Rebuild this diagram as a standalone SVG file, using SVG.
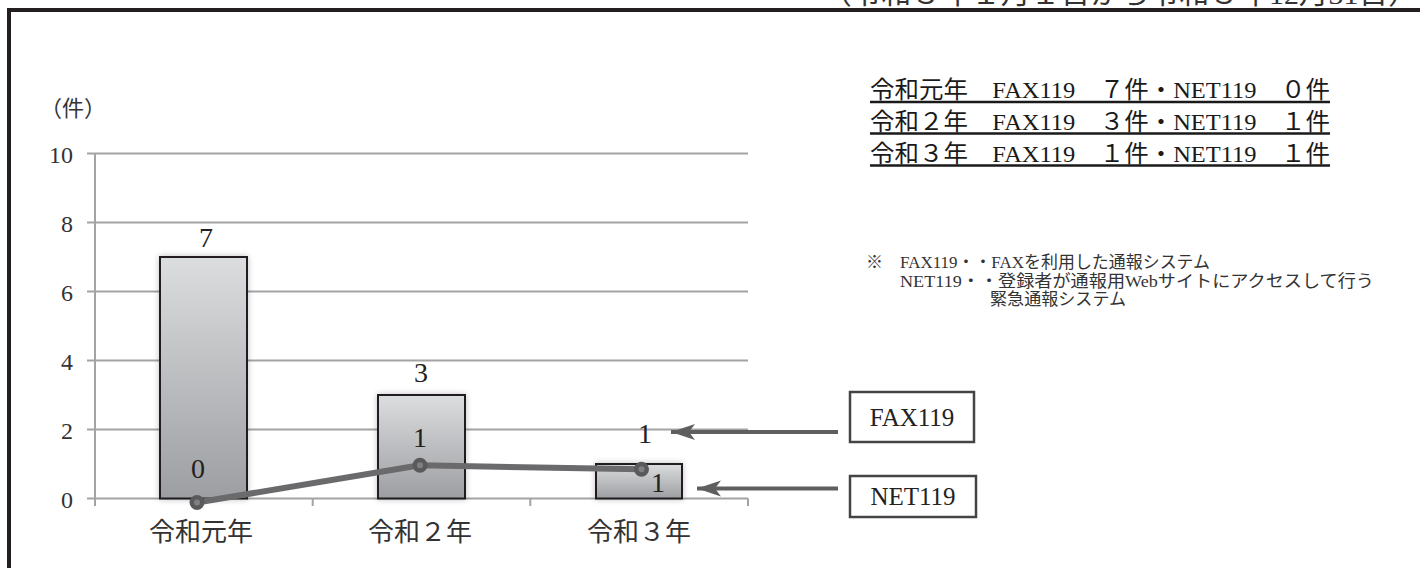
<svg xmlns="http://www.w3.org/2000/svg" width="1420" height="568" viewBox="0 0 1420 568">
<style>
.jp{font-family:"Liberation Serif","Noto Sans CJK JP",serif;}
.grid{stroke:#a3a3a3;stroke-width:2;fill:none;}
.ytick{font-size:24px;fill:#333;text-anchor:end;}
.cat{font-size:26px;fill:#333;text-anchor:middle;}
.val{font-size:28px;fill:#222;text-anchor:middle;}
.bar{fill:url(#barGrad);stroke:#231f20;stroke-width:2;filter:url(#shadow);}
.sum{font-size:24px;fill:#1a1a1a;}
.uline{stroke:#1a1a1a;stroke-width:2.5;}
.note{font-size:17px;fill:#333;}
.box{fill:#fff;stroke:#444;stroke-width:2.5;}
.boxtxt{font-size:25px;fill:#222;text-anchor:middle;}
.arrow{stroke:#5f5f5f;stroke-width:4;fill:none;marker-end:url(#ah);}
.series{stroke:#6a6a6c;stroke-width:6;fill:none;stroke-linejoin:round;}
.pt{fill:#5a5a5c;}
.ptc{fill:#808083;}
</style>
<defs>
<linearGradient id="barGrad" x1="0" y1="0" x2="0" y2="1">
<stop offset="0" stop-color="#dcdddf"/>
<stop offset="1" stop-color="#9d9ea1"/>
</linearGradient>
<filter id="shadow" x="-20%" y="-20%" width="140%" height="140%">
<feGaussianBlur in="SourceAlpha" stdDeviation="3"/>
<feComponentTransfer><feFuncA type="linear" slope="0.25"/></feComponentTransfer>
<feMerge><feMergeNode/><feMergeNode in="SourceGraphic"/></feMerge>
</filter>
<marker id="ah" markerUnits="userSpaceOnUse" markerWidth="30" markerHeight="24" refX="24" refY="12" orient="auto">
<path d="M0,4 L24,12 L0,20 L6,12 Z" fill="#5f5f5f"/>
</marker>
</defs>
<rect width="1420" height="568" fill="#fff"/>

<g id="header">
<text class="jp" x="822" y="4" font-size="27" fill="#333" textLength="596" lengthAdjust="spacingAndGlyphs">（令和３年１月１日から令和３年12月31日）</text>
</g>
<g id="frame">
<line x1="7" y1="10" x2="1420" y2="10" stroke="#231f20" stroke-width="4"/>
<line x1="9" y1="8" x2="9" y2="568" stroke="#231f20" stroke-width="4"/>
</g>

<g id="axes">
<text class="jp" x="40" y="116" font-size="22" fill="#333">（件）</text>
<line class="grid" x1="87" y1="153.5" x2="748" y2="153.5"/>
<line class="grid" x1="87" y1="222.5" x2="748" y2="222.5"/>
<line class="grid" x1="87" y1="291.5" x2="748" y2="291.5"/>
<line class="grid" x1="87" y1="360.5" x2="748" y2="360.5"/>
<line class="grid" x1="87" y1="429.5" x2="748" y2="429.5"/>
<line class="grid" x1="87" y1="498.5" x2="748" y2="498.5"/>
<line class="grid" x1="95" y1="153.5" x2="95" y2="506"/>
<line class="grid" x1="312.7" y1="498.5" x2="312.7" y2="506"/>
<line class="grid" x1="530.3" y1="498.5" x2="530.3" y2="506"/>
<line class="grid" x1="748" y1="498.5" x2="748" y2="506"/>
<text class="jp ytick" x="73" y="163">10</text>
<text class="jp ytick" x="73" y="232">8</text>
<text class="jp ytick" x="73" y="301">6</text>
<text class="jp ytick" x="73" y="370">4</text>
<text class="jp ytick" x="73" y="439">2</text>
<text class="jp ytick" x="73" y="508">0</text>
<text class="jp cat" x="201" y="541">令和元年</text>
<text class="jp cat" x="420" y="541">令和２年</text>
<text class="jp cat" x="639" y="541">令和３年</text>
</g>

<g id="bars">
<rect class="bar" x="160" y="257" width="87" height="241.5"/>
<rect class="bar" x="378" y="395" width="87" height="103.5"/>
<rect class="bar" x="596" y="464" width="86" height="34.5"/>
<text class="jp val" x="206" y="247">7</text>
<text class="jp val" x="421" y="382">3</text>
<text class="jp val" x="645" y="443">1</text>
</g>

<g id="net-series">
<polyline class="series" points="197,502.5 420,465.3 641.5,469.3"/>
<circle class="pt" cx="197" cy="502.5" r="7.5"/><circle class="ptc" cx="197" cy="502.5" r="3"/>
<circle class="pt" cx="420" cy="465.3" r="7.5"/><circle class="ptc" cx="420" cy="465.3" r="3"/>
<circle class="pt" cx="641.5" cy="469.3" r="7.5"/><circle class="ptc" cx="641.5" cy="469.3" r="3"/>
<text class="jp val" x="198" y="478">0</text>
<text class="jp val" x="420" y="447">1</text>
<text class="jp val" x="658" y="492">1</text>
</g>

<g id="summary">
<text class="jp sum" x="870" y="98" textLength="460" lengthAdjust="spacingAndGlyphs">令和元年　FAX119　７件・NET119　０件</text>
<text class="jp sum" x="870" y="129.5" textLength="460" lengthAdjust="spacingAndGlyphs">令和２年　FAX119　３件・NET119　１件</text>
<text class="jp sum" x="870" y="161.5" textLength="460" lengthAdjust="spacingAndGlyphs">令和３年　FAX119　１件・NET119　１件</text>
<line class="uline" x1="870" y1="102" x2="1330" y2="102"/>
<line class="uline" x1="870" y1="133.5" x2="1330" y2="133.5"/>
<line class="uline" x1="870" y1="165.5" x2="1330" y2="165.5"/>
</g>

<g id="note">
<text class="jp note" x="866" y="268">※</text>
<text class="jp note" x="900" y="268" textLength="310" lengthAdjust="spacingAndGlyphs">FAX119・・FAXを利用した通報システム</text>
<text class="jp note" x="900" y="287" textLength="474" lengthAdjust="spacingAndGlyphs">NET119・・登録者が通報用Webサイトにアクセスして行う</text>
<text class="jp note" x="990" y="305" textLength="136" lengthAdjust="spacingAndGlyphs">緊急通報システム</text>
</g>

<g id="node-fax">
<rect class="box" x="850" y="392" width="124" height="50"/>
<text class="jp boxtxt" x="912" y="426">FAX119</text>
</g>
<g id="node-net">
<rect class="box" x="850" y="476" width="126" height="41"/>
<text class="jp boxtxt" x="913" y="505">NET119</text>
</g>

<g id="connectors">
<line class="arrow" x1="838" y1="432" x2="671" y2="432"/>
<line class="arrow" x1="838" y1="488.5" x2="697" y2="488.5"/>
</g>
</svg>
